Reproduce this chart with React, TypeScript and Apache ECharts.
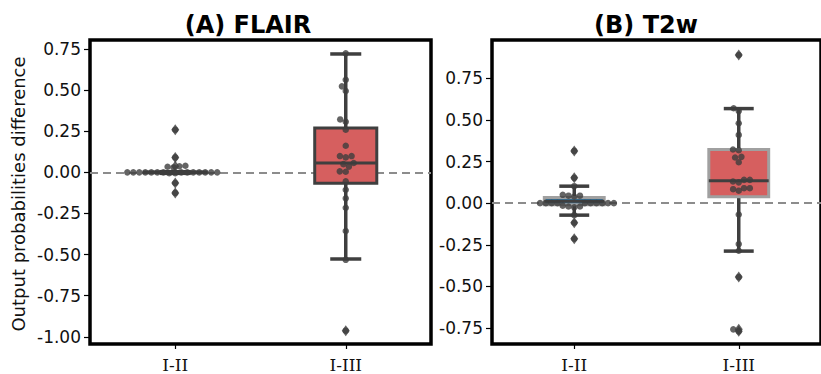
import React, { useEffect, useRef } from "react";
import * as echarts from "echarts";

const CATEGORIES = ["I-II", "I-III"];

// Panel A (FLAIR) values per category
const A_I_II = [0.259, 0.091, 0.04, 0.037, 0.034, 0.03, -0.065, -0.125,
  0, 0, 0, 0, 0, 0, 0, 0, 0, 0, 0, 0, 0, 0, -0.005, -0.005];
const A_I_III = [0.724, 0.563, 0.523, 0.495, 0.322, 0.308, 0.259, 0.162, 0.099, 0.099, 0.091,
  0.057, 0.05, 0.035, 0.006, 0.004, -0.055, -0.106, -0.158, -0.215, -0.357, -0.532, -0.963];
// box stats: [lowerWhisker, Q1, median, Q3, upperWhisker]
const A_BOX_I_II = [-0.006, -0.003, 0, 0.002, 0.004];
const A_BOX_I_III = [-0.527, -0.067, 0.057, 0.27, 0.72];
const A_OUT_I_II = [0.259, 0.091, 0.037, -0.065, -0.125];
const A_OUT_I_III = [-0.963];

// Panel B (T2w)
const B_I_II = [0.314, 0.152, 0.102, 0.05, 0.045, 0.045, 0.04,
  0, 0, 0, 0, 0, 0, 0, 0, 0, 0, -0.015, -0.02, -0.02, -0.025, -0.072, -0.118, -0.214];
const B_I_III = [0.89, 0.57, 0.553, 0.48, 0.41, 0.322, 0.318, 0.278, 0.274, 0.246, 0.14, 0.14,
  0.13, 0.125, 0.09, 0.09, 0.084, 0.075, -0.068, -0.246, -0.286, -0.444, -0.758, -0.77];
const B_BOX_I_II = [-0.072, -0.01, 0.012, 0.034, 0.102];
const B_BOX_I_III = [-0.288, 0.038, 0.134, 0.322, 0.568];
const B_OUT_I_II = [0.314, 0.152, -0.118, -0.214];
const B_OUT_I_III = [0.89, -0.444, -0.758, -0.77];

const A_TICKS = [-1, -0.75, -0.5, -0.25, 0, 0.25, 0.5, 0.75];
const B_TICKS = [-0.75, -0.5, -0.25, 0, 0.25, 0.5, 0.75];
const A_RANGE = [-1.044, 0.805];
const B_RANGE = [-0.846, 0.98];

const BOX_COLORS = ["#3274a1", "#d65f5f"];

const GRID_H = 304;
const GRIDS = [
  { left: 90, top: 40, width: 341, height: GRID_H },
  { left: 492, top: 40, width: 340, height: GRID_H },
];

const DOT = "#3d3d3d";

function swarm(values: number[], pxPerUnit: number, d: number): number[] {
  const idx = values.map((_, i) => i).sort((a, b) => values[a] - values[b]);
  const placed: { x: number; y: number }[] = [];
  const out: number[] = new Array(values.length).fill(0);
  for (const i of idx) {
    const y = values[i] * pxPerUnit;
    const cands = [0];
    for (const p of placed) {
      const dy = Math.abs(p.y - y);
      if (dy < d) {
        const dx = Math.sqrt(d * d - dy * dy);
        cands.push(p.x + dx, p.x - dx);
      }
    }
    cands.sort((a, b) => Math.abs(a) - Math.abs(b) || a - b);
    let chosen = 0;
    for (const c of cands) {
      let ok = true;
      for (const p of placed) {
        const dx = p.x - c, dy = p.y - y;
        if (dx * dx + dy * dy < d * d - 1e-6) { ok = false; break; }
      }
      if (ok) { chosen = c; break; }
    }
    placed.push({ x: chosen, y });
    out[i] = chosen;
  }
  return out;
}

function swarmData(lists: number[][], range: number[], gridIdx: number) {
  const pyu = GRID_H / (range[1] - range[0]);
  const pxu = GRIDS[gridIdx].width / 2;
  const res: number[][] = [];
  lists.forEach((vals, ci) => {
    const offs = swarm(vals, pyu, 6);
    vals.forEach((v, i) => res.push([ci + offs[i] / pxu, v]));
  });
  return res;
}

function outlierData(lists: number[][]) {
  const res: number[][] = [];
  lists.forEach((vals, ci) => vals.forEach((v) => res.push([ci, v])));
  return res;
}

function boxSeries(boxes: number[][], gridIdx: number, edge: string) {
  return {
    type: "custom",
    xAxisIndex: gridIdx * 2,
    yAxisIndex: gridIdx,
    z: 2,
    encode: { x: 0, y: [1, 2, 3, 4, 5] },
    data: boxes.map((b, i) => [i, ...b]),
    markLine: {
      silent: true,
      z: 1,
      symbol: ["none", "none"],
      label: { show: false },
      lineStyle: { color: "#8c8c8c", width: 2, type: [8, 5] },
      data: [{ yAxis: 0 }],
    },
    renderItem: (params: any, api: any) => {
      const cat = api.value(0);
      const lo = api.coord([cat, api.value(1)]);
      const q1 = api.coord([cat, api.value(2)]);
      const med = api.coord([cat, api.value(3)]);
      const q3 = api.coord([cat, api.value(4)]);
      const hi = api.coord([cat, api.value(5)]);
      const bw = api.size([1, 0])[0] * 0.364;
      const cx = lo[0];
      const lineStyle = { stroke: "#3f3f3f", lineWidth: 3.5 };
      return {
        type: "group",
        children: [
          { type: "line", shape: { x1: cx, y1: q3[1], x2: cx, y2: hi[1] }, style: lineStyle },
          { type: "line", shape: { x1: cx, y1: q1[1], x2: cx, y2: lo[1] }, style: lineStyle },
          { type: "line", shape: { x1: cx - bw / 4, y1: hi[1], x2: cx + bw / 4, y2: hi[1] }, style: lineStyle },
          { type: "line", shape: { x1: cx - bw / 4, y1: lo[1], x2: cx + bw / 4, y2: lo[1] }, style: lineStyle },
          {
            type: "rect",
            shape: { x: cx - bw / 2, y: q3[1], width: bw, height: q1[1] - q3[1] },
            style: { fill: BOX_COLORS[params.dataIndex], stroke: edge, lineWidth: 3 },
          },
          { type: "line", shape: { x1: cx - bw / 2, y1: med[1], x2: cx + bw / 2, y2: med[1] }, style: { stroke: "#3f3f3f", lineWidth: 3 } },
        ],
      };
    },
  };
}

function makeOption() {
  const xCat = (g: number) => ({
    type: "category",
    gridIndex: g,
    data: CATEGORIES,
    axisLine: { show: false, onZero: false },
    axisTick: { show: true, alignWithLabel: true, length: 5, lineStyle: { color: "#000", width: 1.2 } },
    axisLabel: { fontFamily: "DejaVu Serif", fontSize: 17, color: "#111", margin: 12 },
    splitLine: { show: false },
  });
  const xVal = (g: number) => ({ type: "value", gridIndex: g, min: -0.5, max: 1.5, show: false, axisLine: { onZero: false } });
  const yAx = (g: number, range: number[], ticks: number[]) => ({
    type: "value",
    gridIndex: g,
    position: "left",
    min: range[0],
    max: range[1],
    axisLine: { show: false, onZero: false },
    axisTick: { show: true, length: 6, customValues: ticks, lineStyle: { color: "#000", width: 1.2 } },
    axisLabel: {
      customValues: ticks,
      formatter: (v: number) => v.toFixed(2),
      fontFamily: "DejaVu Sans",
      fontSize: 17,
      color: "#111",
      margin: 9,
    },
    splitLine: { show: false },
  });
  return {
    animation: false,
    backgroundColor: "#fff",
    grid: GRIDS.map((g) => ({ ...g, show: true, borderColor: "#000", borderWidth: 3.5, backgroundColor: "transparent" })),
    xAxis: [xCat(0), xVal(0), xCat(1), xVal(1)],
    yAxis: [yAx(0, A_RANGE, A_TICKS), yAx(1, B_RANGE, B_TICKS)],
    graphic: [
      { type: "text", x: 248, y: 25, style: { text: "(A) FLAIR", font: "bold 24px 'DejaVu Sans'", fill: "#000", align: "center", verticalAlign: "middle" } },
      { type: "text", x: 646, y: 25, style: { text: "(B) T2w", font: "bold 24px 'DejaVu Sans'", fill: "#000", align: "center", verticalAlign: "middle" } },
      { type: "text", x: 18, y: 194, rotation: Math.PI / 2, style: { text: "Output probabilities difference", font: "18px 'DejaVu Sans'", fill: "#111", align: "center", verticalAlign: "middle" } },
    ],
    series: [
      boxSeries([A_BOX_I_II, A_BOX_I_III], 0, "#3f3f3f"),
      boxSeries([B_BOX_I_II, B_BOX_I_III], 1, "#a0a0a0"),
      { type: "scatter", xAxisIndex: 1, yAxisIndex: 0, z: 3, symbol: "diamond", symbolSize: [8, 11], itemStyle: { color: DOT }, data: outlierData([A_OUT_I_II, A_OUT_I_III]) },
      { type: "scatter", xAxisIndex: 3, yAxisIndex: 1, z: 3, symbol: "diamond", symbolSize: [8, 11], itemStyle: { color: DOT }, data: outlierData([B_OUT_I_II, B_OUT_I_III]) },
      { type: "scatter", xAxisIndex: 1, yAxisIndex: 0, z: 4, symbolSize: 6.5, itemStyle: { color: DOT }, data: swarmData([A_I_II, A_I_III], A_RANGE, 0) },
      { type: "scatter", xAxisIndex: 3, yAxisIndex: 1, z: 4, symbolSize: 6.5, itemStyle: { color: DOT }, data: swarmData([B_I_II, B_I_III], B_RANGE, 1) },
    ],
  };
}

export default function App() {
  const ref = useRef<HTMLDivElement>(null);
  useEffect(() => {
    if (!ref.current) return;
    const chart = echarts.init(ref.current, undefined, { renderer: "svg" });
    chart.setOption(makeOption() as any);
    return () => chart.dispose();
  }, []);
  return <div ref={ref} style={{ position: "absolute", left: 0, top: 0, width: 821, height: 374 }} />;
}
